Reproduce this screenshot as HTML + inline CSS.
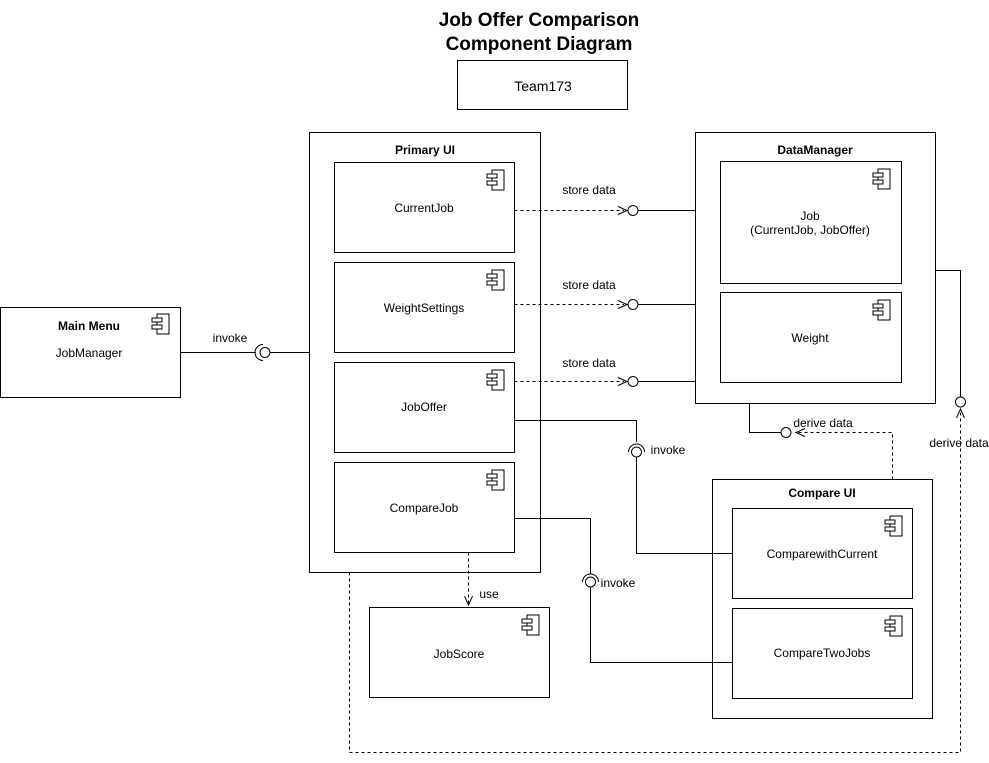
<!DOCTYPE html>
<html><head><meta charset="utf-8"><style>
html,body{margin:0;padding:0;background:#fff;}
svg{display:block;font-family:"Liberation Sans",Arial,sans-serif;}
</style></head><body>
<svg width="989" height="763" viewBox="0 0 989 763" xmlns="http://www.w3.org/2000/svg">
<defs>
<g id="ic" fill="#fff" stroke="#000" stroke-width="1">
<rect x="5" y="0" width="12" height="20"/>
<rect x="0" y="4" width="10" height="4"/>
<rect x="0" y="11" width="10" height="4"/>
</g>
</defs>
<g font-size="12" text-anchor="middle" fill="#000">
<text x="539" y="26" font-size="19" font-weight="bold">Job Offer Comparison</text>
<text x="539" y="50" font-size="19" font-weight="bold">Component Diagram</text>
</g>
<g fill="none" stroke="#000" stroke-width="1">
<rect x="457.5" y="60.5" width="170" height="49"/>
<rect x="0.5" y="307.5" width="180" height="90"/>
<rect x="309.5" y="132.5" width="231" height="440"/>
<rect x="334.5" y="162.5" width="180" height="90"/>
<rect x="334.5" y="262.5" width="180" height="90"/>
<rect x="334.5" y="362.5" width="180" height="90"/>
<rect x="334.5" y="462.5" width="180" height="90"/>
<rect x="695.5" y="132.5" width="240" height="271"/>
<rect x="720.5" y="161.5" width="181" height="122"/>
<rect x="720.5" y="292.5" width="181" height="90"/>
<rect x="712.5" y="479.5" width="220" height="239"/>
<rect x="732.5" y="508.5" width="180" height="90"/>
<rect x="732.5" y="608.5" width="180" height="90"/>
<rect x="369.5" y="607.5" width="180" height="90"/>
<path d="M180.5 352.5H256"/>
<path d="M263 344.5A8 8 0 0 0 263 360.5"/>
<circle cx="265" cy="352.5" r="5"/>
<path d="M270 352.5H309.5"/>
<path d="M514.5 210.5H624" stroke-dasharray="3,3"/><path d="M618 206.5L627 210.5L618 214.5"/>
<circle cx="633" cy="210.5" r="5"/><path d="M638 210.5H695.5"/>
<path d="M514.5 304.5H624" stroke-dasharray="3,3"/><path d="M618 300.5L627 304.5L618 308.5"/>
<circle cx="633" cy="304.5" r="5"/><path d="M638 304.5H695.5"/>
<path d="M514.5 381.5H624" stroke-dasharray="3,3"/><path d="M618 377.5L627 381.5L618 385.5"/>
<circle cx="633" cy="381.5" r="5"/><path d="M638 381.5H695.5"/>
<path d="M514.5 420.5H636.5V442"/>
<path d="M628.5 452A8 8 0 0 1 644.5 452"/>
<circle cx="636.5" cy="452" r="5"/>
<path d="M636.5 457V553.5H732.5"/>
<path d="M514.5 518.5H590.5V574"/>
<path d="M582.5 582A8 8 0 0 1 598.5 582"/>
<circle cx="590.5" cy="582" r="5"/>
<path d="M590.5 587V662.5H732.5"/>
<path d="M468.5 552.5V603" stroke-dasharray="3,3"/><path d="M464.5 596L468.5 605L472.5 596"/>
<path d="M749.5 403.5V432.5H781"/>
<circle cx="786" cy="432.5" r="5"/>
<path d="M892.5 479.5V432.5H798" stroke-dasharray="3,3"/><path d="M805 428.5L796 432.5L805 436.5"/>
<path d="M935.5 270.5H960.5V397"/>
<circle cx="960.5" cy="402" r="5"/>
<path d="M349.5 572.5V752.5H960.5V410" stroke-dasharray="3,3"/><path d="M956.5 418L960.5 409L964.5 418"/>
</g>
<use href="#ic" x="152" y="314"/>
<use href="#ic" x="487" y="170"/>
<use href="#ic" x="487" y="270"/>
<use href="#ic" x="487" y="370"/>
<use href="#ic" x="487" y="470"/>
<use href="#ic" x="873" y="169"/>
<use href="#ic" x="873" y="300"/>
<use href="#ic" x="885" y="516"/>
<use href="#ic" x="885" y="616"/>
<use href="#ic" x="522" y="615"/>
<g font-size="12" text-anchor="middle" fill="#000">
<text x="543" y="91" font-size="14">Team173</text>
<text x="89" y="330" font-weight="bold">Main Menu</text>
<text x="89" y="357">JobManager</text>
<text x="425" y="154" font-weight="bold">Primary UI</text>
<text x="424" y="212">CurrentJob</text>
<text x="424" y="312">WeightSettings</text>
<text x="424" y="411">JobOffer</text>
<text x="424" y="512">CompareJob</text>
<text x="815" y="154" font-weight="bold">DataManager</text>
<text x="810" y="220">Job</text>
<text x="810" y="234">(CurrentJob, JobOffer)</text>
<text x="810" y="342">Weight</text>
<text x="822" y="497" font-weight="bold">Compare UI</text>
<text x="822" y="558">ComparewithCurrent</text>
<text x="822" y="657">CompareTwoJobs</text>
<text x="459" y="658">JobScore</text>
<text x="230" y="342">invoke</text>
<text x="589" y="194">store data</text>
<text x="589" y="289">store data</text>
<text x="589" y="367">store data</text>
<text x="668" y="454">invoke</text>
<text x="618" y="587">invoke</text>
<text x="489" y="598">use</text>
<text x="823" y="427">derive data</text>
<text x="959" y="447">derive data</text>
</g>
</svg>
</body></html>
